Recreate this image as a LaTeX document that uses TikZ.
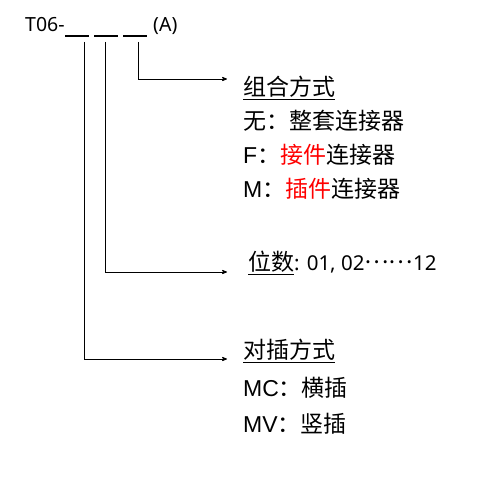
\documentclass[tikz,border=0pt]{standalone}
\usepackage{fontspec}
\setmainfont{Liberation Sans}
\newfontfamily\zhfont{Noto Sans CJK SC}
\newfontfamily\codefont{Noto Sans}
\usepackage{tikz}
\usetikzlibrary{arrows}
\newcommand{\zh}[1]{{\zhfont #1}}
\newcommand{\num}[2][19.5]{{\codefont\fontsize{#1}{22}\selectfont #2}}
\newcommand{\hot}[1]{\textcolor{red}{#1}}
\tikzstyle{lead}=[->,>=stealth',line width=0.8pt]
\tikzstyle{item}=[anchor=base west,inner sep=0pt,font=\fontsize{23}{26}\selectfont]
\tikzstyle{blank}=[line width=1.4pt]

\begin{document}
\begin{tikzpicture}[x=1pt,y=-1pt]
\useasboundingbox (0,0) rectangle (485,478);
% code line
\node[item] (code) at (25,32) {\num{T06-}};
\foreach \x in {65,94,123}
  \draw[blank] (\x,36) -- +(24,0);
\node[item] (opt) at (153,32) {\num{(A)}};
% field ends
\coordinate (s1) at (138,42);
\coordinate (s2) at (105,42);
\coordinate (s3) at (84,42);
\coordinate (e1) at (227,79);
\coordinate (e2) at (227,272);
\coordinate (e3) at (227,359);
\draw[lead] (s1) |- (e1);
\draw[lead] (s2) |- (e2);
\draw[lead] (s3) |- (e3);
% combination
\node[item] (kind) at (243,96) {\underline{\zh{组合方式}}};
\node[item] (kind0) at (243,130) {\zh{无：整套连接器}};
\node[item] (kindF) at (243,164) {F\zh{：\hot{接件}连接器}};
\node[item] (kindM) at (243,198) {M\zh{：\hot{插件}连接器}};
% pin count
\node[item] (pins) at (248,271)
  {\underline{\zh{位数}}\num[20.5]{: 01, 02}\raisebox{7pt}{\zh{……}}\num[20.5]{12}};
% mating
\node[item] (mate) at (243,359) {\underline{\zh{对插方式}}};
\node[item] (mateC) at (243,397) {MC\zh{：横插}};
\node[item] (mateV) at (243,432) {MV\zh{：竖插}};
\end{tikzpicture}
\end{document}
